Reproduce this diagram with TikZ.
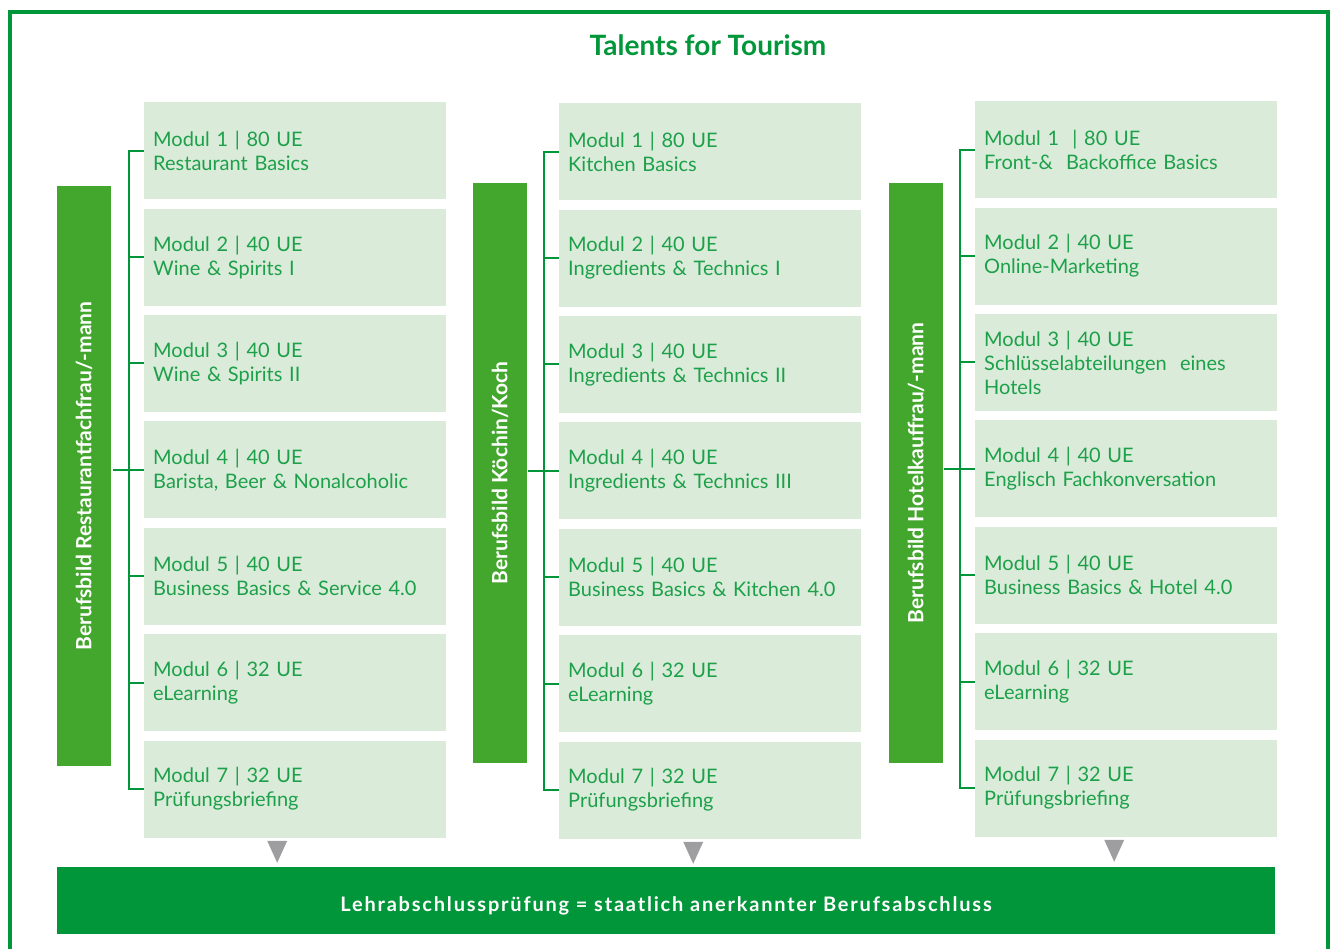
\documentclass[tikz,border=0pt]{standalone}
\usepackage{fontspec}
\setmainfont{Lato}
\usetikzlibrary{positioning, calc}
\definecolor{TTGreen}{RGB}{0, 150, 57}
\definecolor{TTBar}{RGB}{68, 167, 45}
\definecolor{TTPale}{RGB}{219, 235, 217}
\definecolor{TTText}{RGB}{29, 160, 74}
\definecolor{TTGrey}{RGB}{158, 158, 160}

\begin{document}
\begin{tikzpicture}[
  x=1pt, y=-1pt,
  node distance=9pt,
  modul/.style={fill=TTPale, minimum width=302pt, minimum height=97pt, text width=284pt, inner xsep=8pt, align=left, text=TTText, font=\fontsize{20}{24}\selectfont},
  berufbar/.style={fill=TTBar, rotate=90, minimum width=579pt, minimum height=54pt, inner sep=0pt, text=white, font=\fontsize{21}{24}\selectfont\bfseries},
  bracket/.style={draw=TTGreen, line width=2pt},
  pfeil/.style={fill=TTGrey},
  exam/.style={fill=TTGreen, minimum width=1218pt, minimum height=67pt, text height=22pt, text depth=0pt, text=white, font=\fontsize{20}{24}\selectfont\bfseries\addfontfeature{LetterSpace=9}}
]
  \useasboundingbox (0,0) rectangle (1331,949);
  \draw[TTGreen, line width=4pt] (10,949) -- (10,12) -- (1328,12) -- (1328,949);

  \node[text=TTGreen, font=\fontsize{28}{32}\selectfont\bfseries] (title) at (708,45) {Talents for Tourism};

  % Restaurant
  \node[berufbar] (restbar) at (84,476) {Berufsbild Restaurantfachfrau/-mann};
  \node[modul, anchor=north west] (r1) at (144,102) {Modul 1 | 80 UE\\Restaurant Basics};
  \node[modul, below=of r1] (r2) {Modul 2 | 40 UE\\Wine \& Spirits I};
  \node[modul, below=of r2] (r3) {Modul 3 | 40 UE\\Wine \& Spirits II};
  \node[modul, below=of r3] (r4) {Modul 4 | 40 UE\\Barista, Beer \& Nonalcoholic};
  \node[modul, below=of r4] (r5) {Modul 5 | 40 UE\\Business Basics \& Service 4.0};
  \node[modul, below=of r5] (r6) {Modul 6 | 32 UE\\eLearning};
  \node[modul, below=of r6] (r7) {Modul 7 | 32 UE\\Prüfungsbriefing};

  \draw[bracket] (r1.west) -- ++(-15,0) |- (r7.west);
  \draw[bracket] (r2.west) -- ++(-15,0) (r3.west) -- ++(-15,0) (r4.west) -- ++(-31,0)
    (r5.west) -- ++(-15,0) (r6.west) -- ++(-15,0);
  \fill[pfeil] ($(r7.south)+(-28,3)$) -- ++(20,0) -- ++(-10,22) -- cycle;

  % Kueche
  \node[berufbar] (kochbar) at (500,473) {Berufsbild Köchin/Koch};
  \node[modul, anchor=north west] (k1) at (559,103) {Modul 1 | 80 UE\\Kitchen Basics};
  \node[modul, below=of k1] (k2) {Modul 2 | 40 UE\\Ingredients \& Technics I};
  \node[modul, below=of k2] (k3) {Modul 3 | 40 UE\\Ingredients \& Technics II};
  \node[modul, below=of k3] (k4) {Modul 4 | 40 UE\\Ingredients \& Technics III};
  \node[modul, below=of k4] (k5) {Modul 5 | 40 UE\\Business Basics \& Kitchen 4.0};
  \node[modul, below=of k5] (k6) {Modul 6 | 32 UE\\eLearning};
  \node[modul, below=of k6] (k7) {Modul 7 | 32 UE\\Prüfungsbriefing};

  \draw[bracket] (k1.west) -- ++(-15,0) |- (k7.west);
  \draw[bracket] (k2.west) -- ++(-15,0) (k3.west) -- ++(-15,0) (k4.west) -- ++(-31,0)
    (k5.west) -- ++(-15,0) (k6.west) -- ++(-15,0);
  \fill[pfeil] ($(k7.south)+(-27,3)$) -- ++(20,0) -- ++(-10,22) -- cycle;

  % Hotel
  \node[berufbar] (hotelbar) at (916,473) {Berufsbild Hotelkauffrau/-mann};
  \node[modul, anchor=north west] (h1) at (975,101) {Modul 1\ \ | 80 UE\\Front-\&\ \ Backoffice Basics};
  \node[modul, below=of h1] (h2) {Modul 2 | 40 UE\\Online-Marketing};
  \node[modul, below=of h2] (h3) {Modul 3 | 40 UE\\Schlüsselabteilungen\ \ eines\\Hotels};
  \node[modul, below=of h3] (h4) {Modul 4 | 40 UE\\Englisch Fachkonversation};
  \node[modul, below=of h4] (h5) {Modul 5 | 40 UE\\Business Basics \& Hotel 4.0};
  \node[modul, below=of h5] (h6) {Modul 6 | 32 UE\\eLearning};
  \node[modul, below=of h6] (h7) {Modul 7 | 32 UE\\Prüfungsbriefing};

  \draw[bracket] (h1.west) -- ++(-15,0) |- (h7.west);
  \draw[bracket] (h2.west) -- ++(-15,0) (h3.west) -- ++(-15,0) (h4.west) -- ++(-31,0)
    (h5.west) -- ++(-15,0) (h6.west) -- ++(-15,0);
  \fill[pfeil] ($(h7.south)+(-22,3)$) -- ++(20,0) -- ++(-10,22) -- cycle;

  \node[exam] (exam) at (666,900.5) {Lehrabschlussprüfung = staatlich anerkannter Berufsabschluss};
\end{tikzpicture}
\end{document}
